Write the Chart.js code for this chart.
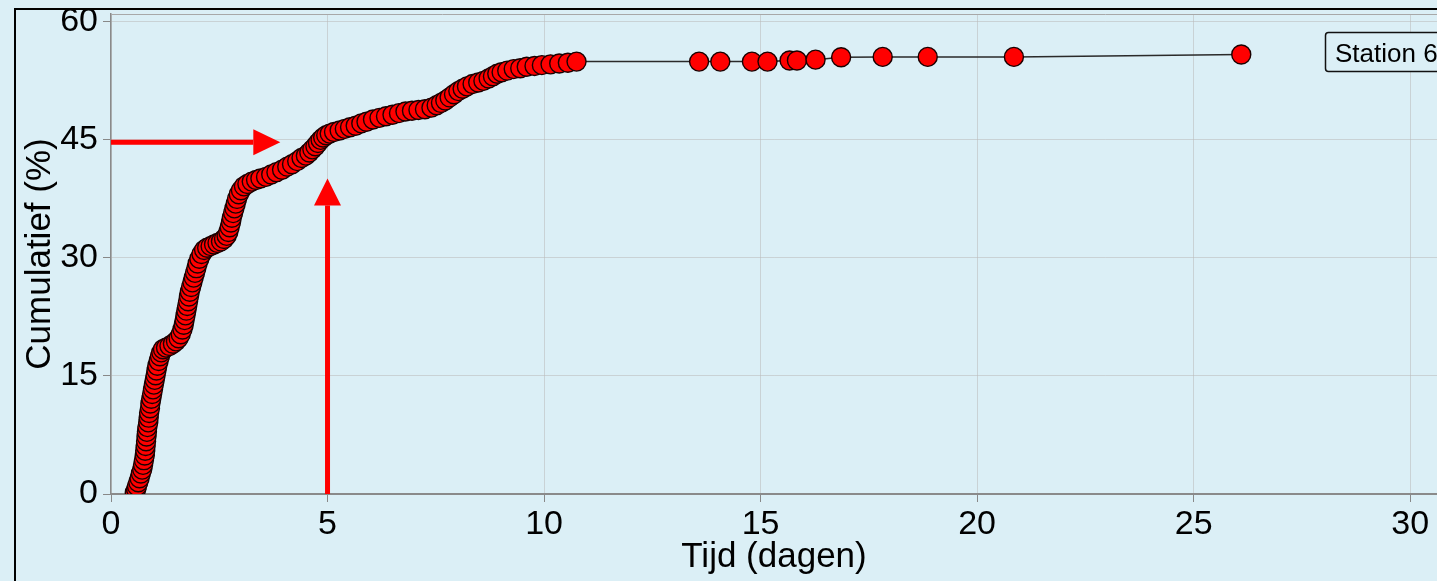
<!DOCTYPE html>
<html lang="nl">
<head>
  <meta charset="utf-8">
  <title>Cumulatief - Station 6</title>
  <script src="https://cdn.jsdelivr.net/npm/chart.js"></script>
  <style>
    html, body { margin: 0; padding: 0; background: #dbeff6; }
    #wrap { width: 1437px; height: 581px; position: relative; }
  </style>
</head>
<body>
  <div id="wrap"><canvas id="cumChart"></canvas></div>

  <script>
    // tijd in dagen en cumulatief percentage
    const days = [
      0.55, 0.58, 0.60, 0.63, 0.66, 0.69, 0.72, 0.74, 0.76, 0.78, 0.79, 0.80, 0.81, 0.82, 0.83, 0.84,
      0.86, 0.87, 0.88, 0.90, 0.91, 0.93, 0.95, 0.97, 0.99, 1.01, 1.03, 1.05, 1.07, 1.10, 1.13, 1.16, 1.20,
      1.27, 1.35, 1.43, 1.50, 1.56, 1.61, 1.65,
      1.68, 1.70, 1.72, 1.74, 1.76, 1.78, 1.80, 1.82, 1.85, 1.88, 1.91, 1.94, 1.97, 2.00, 2.04, 2.09, 2.15,
      2.22, 2.30, 2.38, 2.46, 2.54, 2.61, 2.67,
      2.71, 2.74, 2.77, 2.79, 2.82, 2.85, 2.88, 2.91, 2.95, 3.00, 3.07,
      3.15, 3.25, 3.35, 3.45, 3.58, 3.70, 3.82, 3.95, 4.07, 4.18, 4.30, 4.40, 4.50, 4.58, 4.65, 4.72,
      4.78, 4.84, 4.90, 4.97, 5.05,
      5.15, 5.28, 5.40, 5.52, 5.65, 5.78, 5.90, 6.05, 6.20, 6.35, 6.50, 6.65, 6.80, 6.95, 7.10, 7.25,
      7.40, 7.52, 7.62, 7.72, 7.82, 7.92, 8.02, 8.12, 8.22, 8.35, 8.48, 8.60, 8.72, 8.82, 8.92, 9.02,
      9.15, 9.30, 9.45, 9.60, 9.78, 9.95, 10.15, 10.35, 10.55, 10.75,
      13.58, 14.07, 14.80, 15.16, 15.67, 15.84, 16.27, 16.86, 17.82, 18.86, 20.85, 26.10
    ];
    const cumPct = [
      0.2, 0.6, 1.0, 1.5, 2.0, 2.6, 3.1, 3.7, 4.3, 4.9, 5.5, 6.1, 6.7, 7.3, 7.9, 8.5,
      9.1, 9.7, 10.3, 10.9, 11.5, 12.1, 12.7, 13.3, 13.9, 14.5, 15.1, 15.7, 16.3, 16.9, 17.5, 18.0, 18.4,
      18.6, 18.8, 19.1, 19.4, 19.8, 20.3, 20.9,
      21.5, 22.1, 22.7, 23.3, 23.9, 24.5, 25.1, 25.7, 26.3, 26.9, 27.5, 28.1, 28.7, 29.3, 29.9, 30.5, 31.0,
      31.3, 31.5, 31.7, 31.9, 32.1, 32.4, 32.8,
      33.3, 33.9, 34.5, 35.1, 35.7, 36.3, 36.9, 37.5, 38.1, 38.6, 39.1,
      39.4, 39.7, 39.9, 40.1, 40.3, 40.6, 40.9, 41.2, 41.6, 41.9, 42.3, 42.7, 43.0, 43.4, 43.8, 44.2,
      44.6, 45.0, 45.3, 45.6, 45.8,
      46.0, 46.2, 46.4, 46.6, 46.8, 47.1, 47.3, 47.6, 47.8, 48.0, 48.2, 48.4, 48.6, 48.7, 48.8, 48.9,
      49.1, 49.4, 49.7, 50.0, 50.4, 50.8, 51.2, 51.5, 51.8, 52.1, 52.3, 52.5, 52.8, 53.1, 53.4, 53.6,
      53.8, 54.0, 54.1, 54.3, 54.4, 54.5, 54.6, 54.7, 54.8, 54.95,
      54.95, 54.95, 54.95, 54.95, 55.1, 55.1, 55.2, 55.5, 55.55, 55.55, 55.55, 55.85
    ];

    const xTicks = [0, 5, 10, 15, 20, 25, 30];
    const yTicks = [0, 15, 30, 45, 60];

    // rode pijlen: horizontaal op ~45 %, verticaal op 5 dagen
    const hArrowLevel = 44.7;
    const hArrowSpan = [0, 3.91];
    const vArrowAt = 5;
    const vArrowSpan = [0, 40.1];

    const seriesName = 'Station 6';

    const frame = {
      id: 'frame',
      beforeDraw(chart) {
        const { ctx, width, height } = chart;
        ctx.save();
        ctx.fillStyle = '#dbeff6';
        ctx.fillRect(0, 0, width, height);
        ctx.strokeStyle = '#000';
        ctx.lineWidth = 2;
        ctx.strokeRect(15, 9, width + 20, height + 20);
        ctx.restore();
      },
      afterDraw(chart) {
        const { ctx, chartArea } = chart;
        ctx.save();
        ctx.strokeStyle = '#a8a8a8';
        ctx.lineWidth = 1;
        ctx.beginPath();
        ctx.moveTo(chartArea.left, chartArea.top + 0.5);
        ctx.lineTo(chartArea.right, chartArea.top + 0.5);
        ctx.stroke();

        // legenda
        ctx.fillStyle = '#dbeff6';
        ctx.strokeStyle = '#111';
        ctx.lineWidth = 1.5;
        ctx.beginPath();
        ctx.roundRect(1325.5, 32.5, 160, 39, 3);
        ctx.fill();
        ctx.stroke();
        ctx.fillStyle = '#000';
        ctx.font = '26px "Liberation Sans", Arial, sans-serif';
        ctx.textBaseline = 'alphabetic';
        ctx.fillText(seriesName, 1335, 62);
        ctx.restore();
      }
    };

    const arrows = {
      id: 'arrows',
      afterDatasetsDraw(chart) {
        const { ctx } = chart;
        const xs = chart.scales.x, ys = chart.scales.y;
        ctx.save();
        ctx.fillStyle = '#ff0000';

        // horizontaal
        const hy = ys.getPixelForValue(hArrowLevel);
        const hx0 = xs.getPixelForValue(hArrowSpan[0]);
        const hx1 = xs.getPixelForValue(hArrowSpan[1]);
        ctx.fillRect(hx0, hy - 2.5, hx1 - 27 - hx0, 5);
        ctx.beginPath();
        ctx.moveTo(hx1, hy);
        ctx.lineTo(hx1 - 27, hy - 13);
        ctx.lineTo(hx1 - 27, hy + 13);
        ctx.closePath();
        ctx.fill();

        // verticaal
        const vx = xs.getPixelForValue(vArrowAt);
        const vy0 = ys.getPixelForValue(vArrowSpan[0]);
        const vy1 = ys.getPixelForValue(vArrowSpan[1]);
        ctx.fillRect(vx - 2.5, vy1 + 27, 5, vy0 - vy1 - 27);
        ctx.beginPath();
        ctx.moveTo(vx, vy1);
        ctx.lineTo(vx - 13.5, vy1 + 27);
        ctx.lineTo(vx + 13.5, vy1 + 27);
        ctx.closePath();
        ctx.fill();
        ctx.restore();
      }
    };

    const font = '"Liberation Sans", Arial, sans-serif';

    new Chart(document.getElementById('cumChart'), {
      type: 'scatter',
      data: {
        datasets: [{
          label: seriesName,
          data: days.map((d, i) => ({ x: d, y: cumPct[i] })),
          showLine: true,
          borderColor: '#2a2a2a',
          borderWidth: 1.5,
          pointRadius: 9.5,
          pointBorderWidth: 1.4,
          pointBorderColor: '#1a0000',
          pointBackgroundColor: '#ff0000',
          clip: 0
        }]
      },
      options: {
        responsive: true,
        maintainAspectRatio: false,
        animation: false,
        devicePixelRatio: 1,
        layout: { autoPadding: false, padding: { top: 14, left: 0, right: 0, bottom: 0 } },
        plugins: { legend: { display: false }, tooltip: { enabled: false } },
        scales: {
          x: {
            type: 'linear',
            min: 0,
            max: 30.62,
            afterBuildTicks: s => { s.ticks = xTicks.map(v => ({ value: v })); },
            afterFit: s => { s.height = 87; s.paddingLeft = 0; s.paddingRight = 0; },
            grid: { color: 'rgba(185,185,185,0.55)', tickLength: 8, tickColor: '#888', lineWidth: 1 },
            border: { color: '#8a8a8a', width: 2 },
            ticks: { color: '#000', font: { family: font, size: 34 }, padding: 2, maxRotation: 0 },
            title: {
              display: true, text: 'Tijd (dagen)', color: '#000',
              font: { family: font, size: 35, lineHeight: 1.2 }, padding: { top: 0, bottom: 3 }
            }
          },
          y: {
            type: 'linear',
            min: 0,
            max: 61,
            afterBuildTicks: s => { s.ticks = yTicks.map(v => ({ value: v })); },
            afterFit: s => { s.width = 111; s.paddingTop = 0; s.paddingBottom = 0; },
            grid: { color: 'rgba(185,185,185,0.55)', tickLength: 8, tickColor: '#888', lineWidth: 1 },
            border: { color: '#8a8a8a', width: 1.5 },
            ticks: { color: '#000', font: { family: font, size: 34 }, padding: 5 },
            title: {
              display: true, text: 'Cumulatief (%)', color: '#000',
              font: { family: font, size: 35, lineHeight: 1.2 }, padding: { top: 19, bottom: 0 }
            }
          }
        }
      },
      plugins: [frame, arrows]
    });
  </script>
</body>
</html>
